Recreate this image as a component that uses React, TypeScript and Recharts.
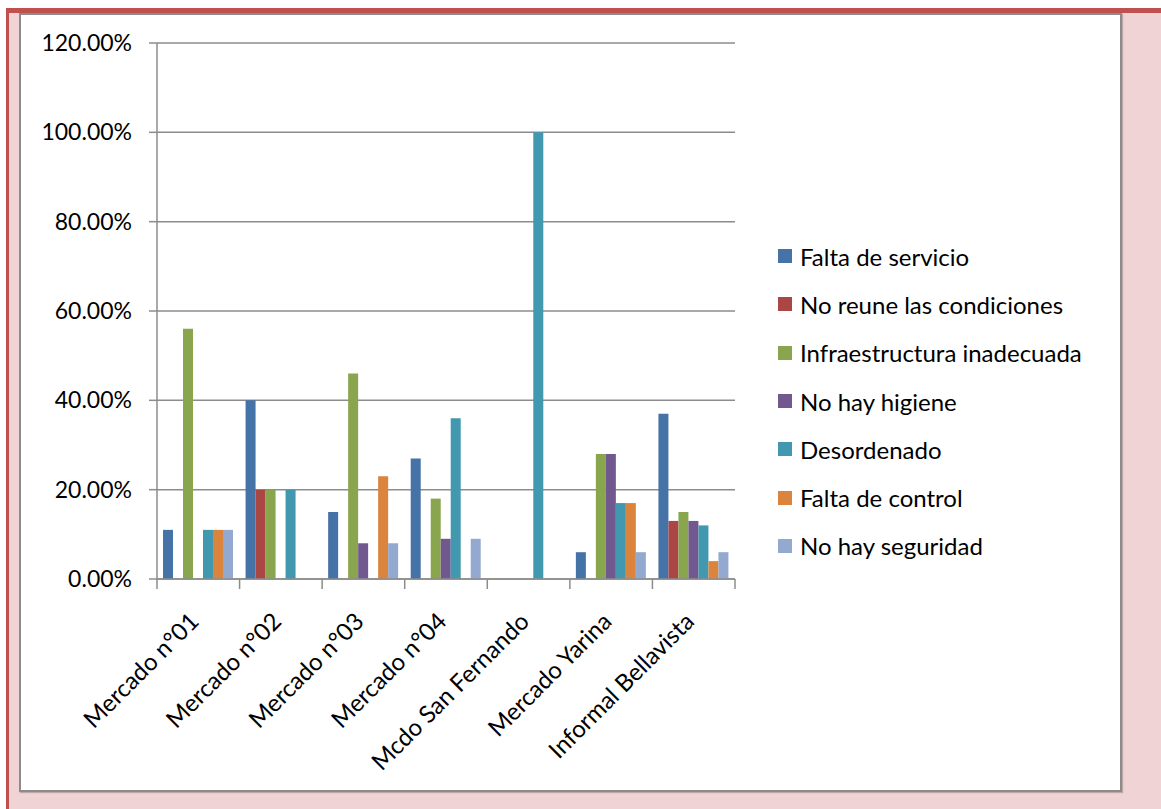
import React from "react";
import { BarChart, Bar, XAxis, YAxis, CartesianGrid, Legend } from "recharts";

const categories = [
  "Mercado n°01",
  "Mercado n°02",
  "Mercado n°03",
  "Mercado n°04",
  "Mcdo San Fernando",
  "Mercado Yarina",
  "Informal Bellavista",
];

const faltaServicio = [11, 40, 15, 27, 0, 6, 37];
const noReune = [0, 20, 0, 0, 0, 0, 13];
const infraestructura = [56, 20, 46, 18, 0, 28, 15];
const noHigiene = [0, 0, 8, 9, 0, 28, 13];
const desordenado = [11, 20, 0, 36, 100, 17, 12];
const faltaControl = [11, 0, 23, 0, 0, 17, 4];
const noSeguridad = [11, 0, 8, 9, 0, 6, 6];

const yTicks = [0, 20, 40, 60, 80, 100, 120];

const series = [
  { key: "s1", name: "Falta de servicio", values: faltaServicio, color: "#4572A7" },
  { key: "s2", name: "No reune las condiciones", values: noReune, color: "#AA4643" },
  { key: "s3", name: "Infraestructura inadecuada", values: infraestructura, color: "#89A54E" },
  { key: "s4", name: "No hay higiene", values: noHigiene, color: "#71588F" },
  { key: "s5", name: "Desordenado", values: desordenado, color: "#4198AF" },
  { key: "s6", name: "Falta de control", values: faltaControl, color: "#DB843D" },
  { key: "s7", name: "No hay seguridad", values: noSeguridad, color: "#93A9CF" },
];

const data = categories.map((name, i) => {
  const row: any = { name };
  series.forEach((s) => (row[s.key] = s.values[i]));
  return row;
});

const FONT = "Lato, 'Open Sans', sans-serif";
const GRID = "#8c8c8c";

const CategoryTick = (props: any) => {
  const { x, y, payload, index, visibleTicksCount } = props;
  const half = payload && payload.offset ? payload.offset : 41.3;
  const last = index === (visibleTicksCount || categories.length) - 1;
  return (
    <g>
      <line x1={x - half} x2={x - half} y1={y - 10} y2={y} stroke={GRID} strokeWidth={1.5} />
      {last && <line x1={x + half} x2={x + half} y1={y - 10} y2={y} stroke={GRID} strokeWidth={1.5} />}
      <text
        x={0}
        y={0}
        transform={`translate(${x + 2},${y + 34}) rotate(-45)`}
        textAnchor="end"
        fontSize={24}
        fontFamily={FONT}
        fill="#000"
      >
        {payload.value}
      </text>
    </g>
  );
};

const renderLegend = (props: any) => {
  const order = series.map((s) => s.name);
  const payload = [...(props.payload || [])].sort(
    (a: any, b: any) => order.indexOf(a.value) - order.indexOf(b.value)
  );
  return (
    <div style={{ fontFamily: FONT, fontSize: 24, color: "#000" }}>
      {payload.map((entry: any) => (
        <div key={entry.value} style={{ height: 48.3, display: "flex", alignItems: "center" }}>
          <span style={{ width: 14, height: 14, background: entry.color, marginRight: 8, flex: "none" }} />
          <span style={{ whiteSpace: "nowrap" }}>{entry.value}</span>
        </div>
      ))}
    </div>
  );
};

export default function App() {
  return (
    <div style={{ position: "absolute", left: 0, top: 0, width: 1161, height: 809, background: "#fff", overflow: "hidden" }}>
      {/* page frame */}
      <div style={{ position: "absolute", left: 9, top: 13, right: 0, bottom: 0, background: "#F0D3D4" }} />
      <div style={{ position: "absolute", left: 6, top: 8, right: 0, height: 5, background: "#C0504D" }} />
      <div style={{ position: "absolute", left: 6, top: 8, width: 3, bottom: 0, background: "#C0504D" }} />
      <div
        style={{
          position: "absolute",
          left: 19,
          top: 13,
          width: 1099,
          height: 775,
          background: "#fff",
          border: `2px solid ${GRID}`,
          boxShadow: "1px 1px 1px rgba(0,0,0,0.2)",
        }}
      />
      <div style={{ position: "absolute", left: 0, top: 0 }}>
        <BarChart
          width={1161}
          height={809}
          data={data}
          margin={{ top: 43, right: 426, bottom: 0, left: 0 }}
          barCategoryGap={6}
          barGap={0}
        >
          <CartesianGrid vertical={false} stroke={GRID} strokeWidth={1.5} />
          <XAxis
            dataKey="name"
            height={230}
            interval={0}
            tickLine={false}
            tickSize={10}
            tickMargin={0}
            axisLine={{ stroke: GRID, strokeWidth: 1.5 }}
            tick={<CategoryTick />}
          />
          <YAxis
            width={157}
            domain={[0, 120]}
            ticks={yTicks}
            interval={0}
            tickFormatter={(v: number) => `${v.toFixed(2)}%`}
            tickSize={8}
            tickMargin={17}
            tickLine={{ stroke: GRID, strokeWidth: 1.5 }}
            axisLine={{ stroke: GRID, strokeWidth: 1.5 }}
            tick={{ fontSize: 23, fontFamily: FONT, fill: "#000" }}
          />
          <Legend
            layout="vertical"
            align="center"
            verticalAlign="middle"
            content={renderLegend}
            wrapperStyle={{ left: 778, top: 232, width: 370 }}
          />
          {series.map((s) => (
            <Bar key={s.key} dataKey={s.key} name={s.name} fill={s.color} isAnimationActive={false} />
          ))}
        </BarChart>
      </div>
    </div>
  );
}
